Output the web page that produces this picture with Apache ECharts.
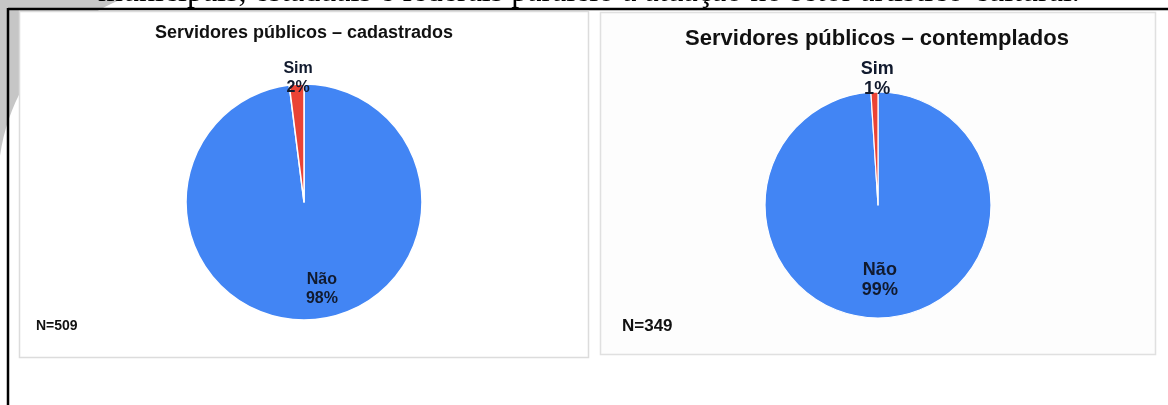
<!DOCTYPE html>
<html>
<head>
<meta charset="utf-8">
<script src="https://cdn.jsdelivr.net/npm/echarts@6/dist/echarts.min.js"></script>
<style>
html,body{margin:0;padding:0;background:#fff;}
#chart{width:1168px;height:405px;}
</style>
</head>
<body>
<div id="chart"></div>
<script>
// ---- data ----
const categories = ['Não', 'Sim'];
const cadastradosPct = [98, 2];
const contempladosPct = [99, 1];
const titleCadastrados = 'Servidores públicos – cadastrados';
const titleContemplados = 'Servidores públicos – contemplados';
const nCadastrados = 'N=509';
const nContemplados = 'N=349';
const captionText = 'municipais, estaduais e federais paralelo à atuação no setor artístico-cultural.';

const colors = ['#4285f4', '#ea4335'];
const chart = echarts.init(document.getElementById('chart'), null, {renderer: 'canvas'});

function mkData(vals) {
  return categories.map((c, i) => ({name: c, value: vals[i], itemStyle: {color: colors[i]}}));
}
function fmt(p) { return p.name + '\n' + Math.round(p.percent) + '%'; }

const option = {
  animation: false,
  backgroundColor: '#ffffff',
  graphic: [
    // watermark arc
    {type: 'sector', z: -10, silent: true,
     shape: {cx: 198, cy: 184, r0: 200, r: 300, startAngle: Math.PI * 188 / 180, endAngle: Math.PI * 275 / 180},
     style: {fill: '#c6c6c6'}},
    // caption text (cut off at top)
    {type: 'text', z: -5, left: 98, top: -23,
     style: {text: captionText, font: '32px "Liberation Serif", "Times New Roman", serif', fill: '#000'}},
    // outer black border
    {type: 'line', z: -4, shape: {x1: 8, y1: 9, x2: 1168, y2: 9}, style: {stroke: '#000', lineWidth: 2.5}},
    {type: 'line', z: -4, shape: {x1: 8, y1: 8, x2: 8, y2: 405}, style: {stroke: '#000', lineWidth: 2.5}},
    // panels
    {type: 'rect', z: -3, shape: {x: 19.5, y: 11.5, width: 569, height: 346},
     style: {fill: '#ffffff', stroke: '#dcdcdc', lineWidth: 1.5}},
    {type: 'rect', z: -3, shape: {x: 600.5, y: 12.5, width: 555, height: 342},
     style: {fill: '#fdfdfd', stroke: '#e0e0e0', lineWidth: 1.5}},
    // titles
    {type: 'text', z: 5, x: 304, y: 33,
     style: {text: titleCadastrados, font: 'bold 18px "Liberation Sans", Arial, sans-serif', fill: '#111', align: 'center', verticalAlign: 'middle'}},
    {type: 'text', z: 5, x: 877, y: 39,
     style: {text: titleContemplados, font: 'bold 22px "Liberation Sans", Arial, sans-serif', fill: '#111', align: 'center', verticalAlign: 'middle'}},
    // N labels
    {type: 'text', z: 5, x: 36, y: 326,
     style: {text: nCadastrados, font: 'bold 14px "Liberation Sans", Arial, sans-serif', fill: '#111', align: 'left', verticalAlign: 'middle'}},
    {type: 'text', z: 5, x: 622, y: 326,
     style: {text: nContemplados, font: 'bold 17px "Liberation Sans", Arial, sans-serif', fill: '#111', align: 'left', verticalAlign: 'middle'}}
  ],
  series: [
    {
      type: 'pie', z: 2, center: [304, 202], radius: 118, startAngle: 90, clockwise: true,
      data: mkData(cadastradosPct),
      itemStyle: {borderColor: '#ffffff', borderWidth: 1.5},
      label: {show: true, position: 'inside', formatter: fmt, color: '#111a2e',
              fontFamily: '"Liberation Sans", Arial, sans-serif', fontWeight: 'bold', fontSize: 16, lineHeight: 19},
      labelLine: {show: false},
      emphasis: {disabled: true},
      labelLayout: function (p) { return p.dataIndex === 1 ? {dx: -2, dy: -62} : {dx: 14, dy: 25}; }
    },
    {
      type: 'pie', z: 2, center: [878, 205], radius: 113, startAngle: 90, clockwise: true,
      data: mkData(contempladosPct),
      itemStyle: {borderColor: '#ffffff', borderWidth: 1.2},
      label: {show: true, position: 'inside', formatter: fmt, color: '#111a2e',
              fontFamily: '"Liberation Sans", Arial, sans-serif', fontWeight: 'bold', fontSize: 18, lineHeight: 20},
      labelLine: {show: false},
      emphasis: {disabled: true},
      labelLayout: function (p) { return p.dataIndex === 1 ? {dx: 1, dy: -66} : {dx: 0, dy: 16}; }
    }
  ]
};
chart.setOption(option);
</script>
</body>
</html>
